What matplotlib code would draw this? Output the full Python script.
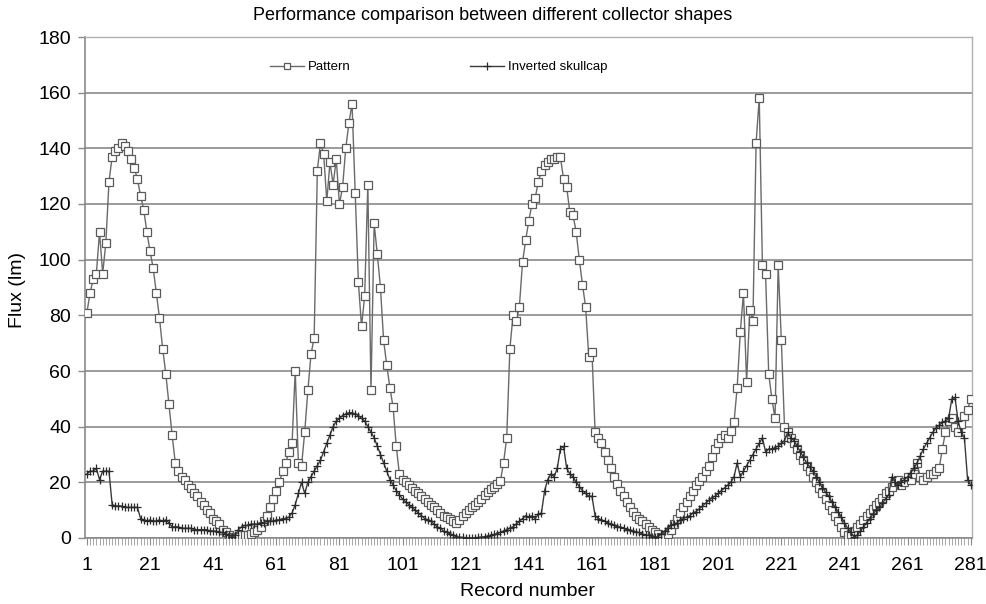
import matplotlib
matplotlib.use("Agg")
import matplotlib.pyplot as plt
from matplotlib.ticker import MultipleLocator
import numpy as np

plt.rcParams['font.family'] = ['Liberation Sans', 'DejaVu Sans']

title = "Performance comparison between different collector shapes"
xlabel = "Record number"
ylabel = "Flux (lm)"
series_names = ["Pattern", "Inverted skullcap"]
xtick_labels = [1, 21, 41, 61, 81, 101, 121, 141, 161, 181, 201, 221, 241, 261, 281]
ytick_values = [0, 20, 40, 60, 80, 100, 120, 140, 160, 180]

# records 1..281
pattern = [
    81, 88, 93, 95, 110, 95, 106, 128, 137, 139,            # 1-10
    140, 142, 141, 139, 136, 133, 129, 123, 118, 110,       # 11-20
    103, 97, 88, 79, 68, 59, 48, 37, 27, 24,                # 21-30
    22, 21, 19, 18, 16, 15, 13, 12, 10, 9,                  # 31-40
    7, 6, 5, 3, 2, 1, 0.5, 0, 0.5, 1,                       # 41-50
    1, 1, 1.5, 2, 3, 4, 6, 8, 11, 14,                       # 51-60
    17, 20, 24, 27, 31, 34, 60, 27, 26, 38,                 # 61-70
    53, 66, 72, 132, 142, 138, 121, 135, 127, 136,          # 71-80
    120, 126, 140, 149, 156, 124, 92, 76, 87, 127,          # 81-90
    53, 113, 102, 90, 71, 62, 54, 47, 33, 23,               # 91-100
    21, 20, 19, 18, 17, 16, 15, 14, 13, 12,                 # 101-110
    11, 10, 9, 8, 7.5, 7, 6, 5.5, 6.5, 8,                   # 111-120
    9, 10, 11, 12, 13, 14, 15.5, 16.5, 17.5, 18.5,          # 121-130
    19.5, 20.5, 27, 36, 68, 80, 78, 83, 99, 107,            # 131-140
    114, 120, 122, 128, 132, 134, 135, 136, 136, 137,       # 141-150
    137, 129, 126, 117, 116, 110, 100, 91, 83, 65,          # 151-160
    67, 38, 36, 34, 31, 28, 25, 22, 19.5, 17,               # 161-170
    15, 13, 11, 9.5, 8, 7, 6, 5, 4, 3,                      # 171-180
    2, 1.5, 0.5, 0, 1.5, 3, 5, 7, 9, 11,                    # 181-190
    13, 15, 17, 19, 20.5, 22, 24, 26, 29, 32,               # 191-200
    34, 36, 37, 36, 38.5, 41.5, 54, 74, 88, 56,             # 201-210
    82, 78, 142, 158, 98, 95, 59, 50, 43, 98,               # 211-220
    71, 40, 38, 36, 34, 32, 30, 28, 26, 24,                 # 221-230
    22, 20, 18, 16, 14, 12, 10, 8, 6, 4,                    # 231-240
    2, 1, 1.5, 2.5, 4, 5, 6.5, 8, 9, 10.5,                  # 241-250
    12, 13, 14.5, 16, 17, 18.5, 20, 21, 19, 20,             # 251-260
    22, 21, 23, 27, 22, 21, 22, 23, 23, 24,                 # 261-270
    25, 32, 38, 42, 43, 40, 38, 41, 44, 46,                 # 271-280
    50,                                                     # 281
]

skullcap = [
    23, 24, 24, 25, 21, 24, 24, 24, 12, 11.5,               # 1-10
    11.5, 11.5, 11, 11, 11, 11, 11, 7, 6.5, 6,              # 11-20
    6.5, 6, 6, 6.5, 6, 6.5, 5.5, 4, 4, 4,                   # 21-30
    3.5, 3.5, 3.5, 3.5, 3, 3, 3, 3, 3, 2.5,                 # 31-40
    2.5, 2.5, 2, 2, 1.5, 1, 0.5, 1, 3, 4,                   # 41-50
    4.5, 4.5, 5, 5, 5, 5.5, 5.5, 6, 6, 6,                   # 51-60
    6.5, 6.5, 7, 7, 7.5, 9, 12, 16, 20, 16,                 # 61-70
    20, 22, 24, 26, 28, 31, 34, 37, 40, 42,                 # 71-80
    43, 44, 44.5, 45, 45, 44.5, 44, 43, 42, 40,             # 81-90
    38, 36, 33, 30, 27, 24, 21, 19, 17, 15.5,               # 91-100
    14, 13, 12, 11, 10, 9, 8, 7, 6.5, 6,                    # 101-110
    5, 4, 3.5, 2.5, 2, 1.5, 1, 0.5, 0.3, 0.2,               # 111-120
    0, 0, 0, 0, 0.2, 0.3, 0.5, 0.7, 1, 1.3,                 # 121-130
    1.6, 2, 2.5, 3, 3.5, 4, 5, 6, 7, 8,                     # 131-140
    7.5, 8, 7, 8.5, 9, 17, 21, 23, 22, 25,                  # 141-150
    32, 33, 25, 23, 22, 20, 18.5, 17, 16, 15,               # 151-160
    15, 8, 7, 6.5, 6, 5.5, 5, 4.5, 4, 4,                    # 161-170
    3.5, 3, 3, 2.5, 2, 2, 1.5, 1, 1, 0.5,                   # 171-180
    0.3, 0.5, 1.5, 2.5, 3.5, 4.5, 5, 5.5, 6.5, 7,           # 181-190
    7.5, 8, 9, 9.5, 10.5, 11.5, 12.5, 13.5, 14.5, 15,       # 191-200
    16, 17, 18, 19, 20, 22, 27, 22, 24, 26,                 # 201-210
    28, 30, 32, 34, 36, 31, 32, 32, 32.5, 33,               # 211-220
    34, 35, 38, 36, 35, 33, 31, 29, 27, 25.5,               # 221-230
    24, 22, 20, 18, 16.5, 15, 13, 11, 9.5, 7.5,             # 231-240
    5.5, 3.5, 2, 0.5, 1, 2.5, 4, 5.5, 7, 8.5,               # 241-250
    10, 11, 12.5, 14, 15.5, 22, 20, 19, 20, 21,             # 251-260
    22, 23.5, 25, 27, 29.5, 32, 34, 36, 38, 39.5,           # 261-270
    40.5, 41.5, 42, 43, 50, 50.5, 42, 38, 36, 21,           # 271-280
    19,                                                     # 281
]

records = np.arange(1, len(pattern) + 1)

fig = plt.figure(figsize=(9.87, 6.04), dpi=100)
ax = fig.add_axes([85/987, 1 - 538/604, (972 - 85)/987, (538 - 37)/604])

ax.plot(records, pattern, color='#6a6a6a', lw=1.0, marker='s', ms=5.5,
        mfc='white', mec='#5a5a5a', mew=0.9, label=series_names[0], zorder=3)
ax.plot(records, skullcap, color='#3a3a3a', lw=1.0, marker='+', ms=6,
        mec='#2a2a2a', mew=0.9, label=series_names[1], zorder=4)

ax.set_xlim(0.4, 281.4)
ax.set_ylim(0, 180)
ax.set_yticks(ytick_values)
ax.set_xticks(xtick_labels)
ax.set_xticklabels([str(v) for v in xtick_labels])
ax.xaxis.set_minor_locator(MultipleLocator(1))

ax.yaxis.grid(True, color='#8a8a8a', lw=1.2)
ax.set_axisbelow(True)
for s in ['left', 'bottom']:
    ax.spines[s].set_color('#8a8a8a')
    ax.spines[s].set_linewidth(1.2)
for s in ['top', 'right']:
    ax.spines[s].set_color('#b0b0b0')
    ax.spines[s].set_linewidth(1.0)

ax.tick_params(axis='y', which='major', length=5, width=1, color='#8a8a8a',
               labelsize=14, pad=5)
ax.tick_params(axis='x', which='major', length=5, width=0.8, color='#8a8a8a',
               labelsize=14, pad=9)
ax.tick_params(axis='x', which='minor', length=5, width=0.6, color='#9a9a9a')

fig.text(0.499, 1 - 15/604, title, ha='center', va='center', fontsize=13)
fig.text(18/987, 1 - 290/604, ylabel, ha='center', va='center', rotation=90, fontsize=14)
fig.text(528/987, 1 - 591/604, xlabel, ha='center', va='center', fontsize=14)

ax.legend(loc='center left', bbox_to_anchor=(0.195, 0.94), ncol=2, frameon=False,
          fontsize=9.5, handlelength=2.6, handletextpad=0.3, columnspacing=9.0,
          markerscale=0.85)

fig.savefig("out.png", dpi=100)
